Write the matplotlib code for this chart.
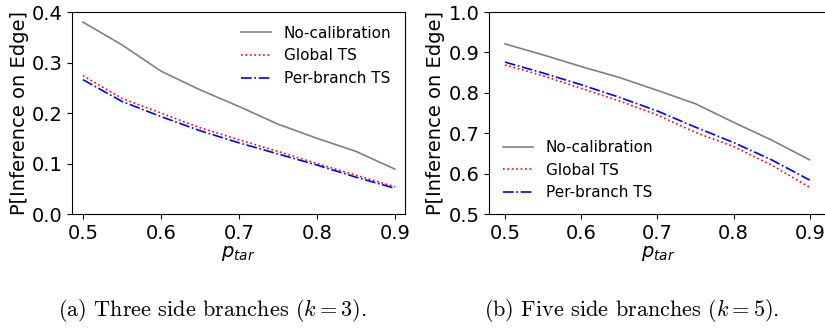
import matplotlib.pyplot as plt

p_tar = [0.5, 0.55, 0.6, 0.65, 0.7, 0.75, 0.8, 0.85, 0.9]

# k = 3
k3_nocal = [0.380, 0.335, 0.283, 0.246, 0.213, 0.178, 0.150, 0.124, 0.089]
k3_global = [0.274, 0.229, 0.200, 0.171, 0.147, 0.124, 0.100, 0.077, 0.054]
k3_branch = [0.266, 0.223, 0.193, 0.165, 0.141, 0.119, 0.097, 0.073, 0.051]

# k = 5
k5_nocal = [0.921, 0.894, 0.865, 0.838, 0.806, 0.773, 0.727, 0.683, 0.634]
k5_global = [0.869, 0.842, 0.811, 0.780, 0.745, 0.702, 0.667, 0.621, 0.566]
k5_branch = [0.876, 0.849, 0.820, 0.789, 0.755, 0.715, 0.677, 0.634, 0.584]

labels = ["No-calibration", "Global TS", "Per-branch TS"]
captions = ["(a) Three side branches ($k=3$).", "(b) Five side branches ($k=5$)."]

fig = plt.figure(figsize=(8.25, 3.29), dpi=100)
ax1 = fig.add_axes([0.0873, 0.3495, 0.4036, 0.614])
ax2 = fig.add_axes([0.5927, 0.3495, 0.41, 0.614])

def tracer(ax, series, ylim, yticks, loc):
    ax.plot(p_tar, series[0], color="gray", linestyle="-", linewidth=1.2, label=labels[0])
    ax.plot(p_tar, series[1], color="red", linestyle=":", linewidth=1.2, label=labels[1])
    ax.plot(p_tar, series[2], color="blue", linestyle="-.", linewidth=1.2, label=labels[2])
    ax.set_ylim(ylim)
    ax.set_yticks(yticks)
    ax.set_xticks([0.5, 0.6, 0.7, 0.8, 0.9])
    ax.tick_params(labelsize=14)
    ax.set_xlabel("$p_{tar}$", fontsize=14, labelpad=1)
    ax.set_ylabel("P[Inference on Edge]", fontsize=14, labelpad=2)
    ax.legend(loc=loc, frameon=False, fontsize=11, labelspacing=0.5)

tracer(ax1, [k3_nocal, k3_global, k3_branch], (0.0, 0.4), [0.0, 0.1, 0.2, 0.3, 0.4], "upper right")
ax1.set_xlim(0.486, 0.913)
tracer(ax2, [k5_nocal, k5_global, k5_branch], (0.5, 1.0), [0.5, 0.6, 0.7, 0.8, 0.9, 1.0], "lower left")
ax2.set_xlim(0.479, 0.923)

fig.text(212 / 825, 1 - 311 / 329, captions[0], ha="center", va="center",
         fontsize=16, fontfamily="cmr10", math_fontfamily="cm")
fig.text(632 / 825, 1 - 311 / 329, captions[1], ha="center", va="center",
         fontsize=16, fontfamily="cmr10", math_fontfamily="cm")

fig.savefig("out.png", dpi=100)
